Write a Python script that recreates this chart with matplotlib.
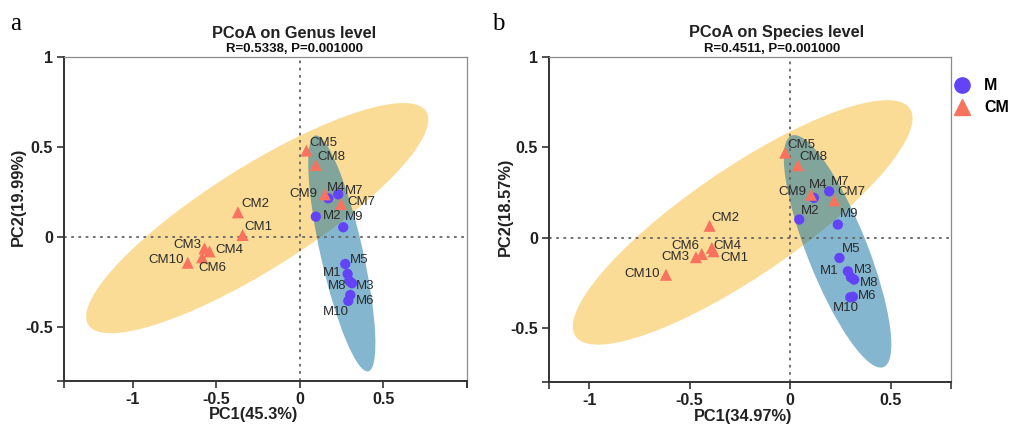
import numpy as np
import matplotlib
matplotlib.use("Agg")
import matplotlib.pyplot as plt
from matplotlib.patches import Ellipse
from matplotlib.lines import Line2D

plt.rcParams["font.family"] = ["Liberation Sans", "DejaVu Sans"]

# ==========================
# Data
# ==========================

m_names = ["M1", "M2", "M3", "M4", "M5", "M6", "M7", "M8", "M9", "M10"]
cm_names = ["CM1", "CM2", "CM3", "CM4", "CM5", "CM6", "CM7", "CM8", "CM9", "CM10"]

# genus level
genus_m_pc1 = [0.286, 0.096, 0.312, 0.170, 0.272, 0.302, 0.230, 0.296, 0.260, 0.290]
genus_m_pc2 = [-0.205, 0.113, -0.257, 0.215, -0.150, -0.322, 0.237, -0.244, 0.054, -0.355]
genus_cm_pc1 = [-0.342, -0.370, -0.570, -0.540, 0.040, -0.584, 0.246, 0.096, 0.150, -0.670]
genus_cm_pc2 = [0.011, 0.137, -0.063, -0.080, 0.480, -0.113, 0.183, 0.400, 0.237, -0.143]

# species level
species_m_pc1 = [0.287, 0.045, 0.302, 0.118, 0.245, 0.312, 0.194, 0.318, 0.237, 0.299]
species_m_pc2 = [-0.187, 0.100, -0.220, 0.220, -0.113, -0.328, 0.256, -0.233, 0.072, -0.331]
species_cm_pc1 = [-0.381, -0.401, -0.469, -0.390, -0.025, -0.440, 0.219, 0.038, 0.103, -0.618]
species_cm_pc2 = [-0.076, 0.065, -0.109, -0.057, 0.470, -0.091, 0.206, 0.400, 0.237, -0.206]

# label offsets in pixels (dx, dy, ha)
genus_offsets = {
    "M1": (-6, 1, "right"), "M2": (7, 1, "left"), "M3": (4, -3, "left"),
    "M4": (-1, 10, "left"), "M5": (5, 4, "left"), "M6": (6, -6, "left"),
    "M7": (7, 3, "left"), "M8": (-3, -5, "right"), "M9": (2, 10, "left"),
    "M10": (1, -11, "right"),
    "CM1": (2, 8, "left"), "CM2": (3, 8, "left"), "CM3": (-3, 3, "right"),
    "CM4": (6, 1, "left"), "CM5": (3, 8, "left"), "CM6": (-4, -11, "left"),
    "CM7": (6, 2, "left"), "CM8": (2, 8, "left"), "CM9": (-7, 0, "right"),
    "CM10": (-4, 3, "right"),
}
species_offsets = {
    "M1": (-9, 0, "right"), "M2": (2, 9, "left"), "M3": (3, 7, "left"),
    "M4": (-5, 13, "left"), "M5": (2, 9, "left"), "M6": (5, 1, "left"),
    "M7": (2, 9, "left"), "M8": (6, -3, "left"), "M9": (2, 11, "left"),
    "M10": (-4, -11, "center"),
    "CM1": (7, -7, "left"), "CM2": (2, 8, "left"), "CM3": (-7, 0, "right"),
    "CM4": (2, 2, "left"), "CM5": (2, 8, "left"), "CM6": (-2, 8, "right"),
    "CM7": (3, 8, "left"), "CM8": (2, 8, "left"), "CM9": (-5, 3, "right"),
    "CM10": (-6, 1, "right"),
}

m_color = "#6244F6"
cm_color = "#F8725E"
m_fill = "#0B6FA0"
cm_fill = "#F7BA30"


def conf_ellipse(ax, x, y, color):
    # 95% confidence ellipse, same idea as ggplot stat_ellipse
    x = np.asarray(x)
    y = np.asarray(y)
    n = len(x)
    cov = np.cov(x, y)
    vals, vecs = np.linalg.eigh(cov)
    order = vals.argsort()[::-1]
    vals = vals[order]
    vecs = vecs[:, order]
    k = n - 1
    fq = (k / 2) * (0.05 ** (-2 / k) - 1)
    scale = np.sqrt(2 * fq)
    angle = np.degrees(np.arctan2(vecs[1, 0], vecs[0, 0]))
    e = Ellipse((x.mean(), y.mean()), 2 * scale * np.sqrt(vals[0]),
                2 * scale * np.sqrt(vals[1]), angle=angle,
                facecolor=color, edgecolor="none", alpha=0.5, zorder=1)
    ax.add_patch(e)


def draw_panel(ax, mx, my, cx, cy, offsets, xlim, xticks,
               xlabel, ylabel, xl_pos, yl_pos):
    conf_ellipse(ax, cx, cy, cm_fill)
    conf_ellipse(ax, mx, my, m_fill)

    ax.axvline(0, color="#666666", linestyle=(0, (1.5, 2.5)), linewidth=1.3, zorder=2)
    ax.axhline(0, color="#666666", linestyle=(0, (1.5, 2.5)), linewidth=1.3, zorder=2)

    ax.scatter(mx, my, s=55, marker="o", color=m_color, edgecolors="none", zorder=3)
    ax.scatter(cx, cy, s=75, marker="^", color=cm_color, edgecolors="none", zorder=4)

    for names, xs, ys in [(m_names, mx, my), (cm_names, cx, cy)]:
        for name, xv, yv in zip(names, xs, ys):
            dx, dy, ha = offsets[name]
            ax.annotate(name, (xv, yv), xytext=(dx, dy), textcoords="offset pixels",
                        ha=ha, va="center", fontsize=9.5, color="#2b2b2b", zorder=5)

    ax.set_xlim(xlim)
    ax.set_ylim(-0.8, 1)
    ax.set_xticks([xlim[0]] + xticks + [xlim[1]])
    ax.set_xticklabels([""] + [f"{t:g}" for t in xticks] + [""])
    ax.set_yticks([-0.8, -0.5, 0, 0.5, 1])
    ax.set_yticklabels(["", "-0.5", "0", "0.5", "1"])
    ax.tick_params(direction="out", length=5, width=1.2, color="#333333",
                   labelsize=11.5, pad=3)
    for lab in ax.get_xticklabels() + ax.get_yticklabels():
        lab.set_fontweight("bold")
        lab.set_color("#222222")

    for side in ["left", "bottom"]:
        ax.spines[side].set_color("#333333")
        ax.spines[side].set_linewidth(1.4)
    for side in ["top", "right"]:
        ax.spines[side].set_color("#8a8a8a")
        ax.spines[side].set_linewidth(0.9)

    ax.set_xlabel(xlabel, fontsize=11.8, fontweight="bold", color="#222222", va="center")
    ax.set_ylabel(ylabel, fontsize=11.8, fontweight="bold", color="#222222", va="center")
    ax.xaxis.set_label_coords(*xl_pos)
    ax.yaxis.set_label_coords(*yl_pos)

    return ax


fig = plt.figure(figsize=(10.1, 4.25), dpi=100)

ax1 = fig.add_axes([64 / 1010, 44 / 425, 403 / 1010, 324 / 425])
ax2 = fig.add_axes([549 / 1010, 43 / 425, 402 / 1010, 325 / 425])

draw_panel(ax1, genus_m_pc1, genus_m_pc2, genus_cm_pc1, genus_cm_pc2,
           genus_offsets, (-1.41, 1.0), [-1, -0.5, 0, 0.5, 1],
           "PC1(45.3%)", "PC2(19.99%)", (0.47, -0.102), (-0.114, 0.57))
draw_panel(ax2, species_m_pc1, species_m_pc2, species_cm_pc1, species_cm_pc2,
           species_offsets, (-1.2, 0.8), [-1, -0.5, 0, 0.5],
           "PC1(34.97%)", "PC2(18.57%)", (0.484, -0.105), (-0.109, 0.54))

# titles
fig.text(294 / 1010, 1 - 33 / 425, "PCoA on Genus level", ha="center", va="center",
         fontsize=11.8, fontweight="bold", color="#222222")
fig.text(295 / 1010, 1 - 49 / 425, "R=0.5338, P=0.001000", ha="center", va="center",
         fontsize=9.5, fontweight="bold", color="#111111")
fig.text(777 / 1010, 1 - 33 / 425, "PCoA on Species level", ha="center", va="center",
         fontsize=11.8, fontweight="bold", color="#222222")
fig.text(772 / 1010, 1 - 49 / 425, "R=0.4511, P=0.001000", ha="center", va="center",
         fontsize=9.5, fontweight="bold", color="#111111")

# panel letters
fig.text(10 / 1010, 1 - 24 / 425, "a", ha="left", va="center", fontsize=18,
         family=["Liberation Serif", "DejaVu Serif"])
fig.text(492 / 1010, 1 - 24 / 425, "b", ha="left", va="center", fontsize=18,
         family=["Liberation Serif", "DejaVu Serif"])

# legend
handles = [
    Line2D([], [], marker="o", linestyle="none", color=m_color, markersize=11),
    Line2D([], [], marker="^", linestyle="none", color=cm_color, markersize=12),
]
leg = ax2.legend(handles, ["M", "CM"], loc="upper left", bbox_to_anchor=(1.007, 0.935),
                 frameon=False, handlelength=1.0, handletextpad=0.9, labelspacing=0.45,
                 borderpad=0, borderaxespad=0,
                 prop={"weight": "bold", "size": 11.5})

fig.savefig("out.png", dpi=100)
